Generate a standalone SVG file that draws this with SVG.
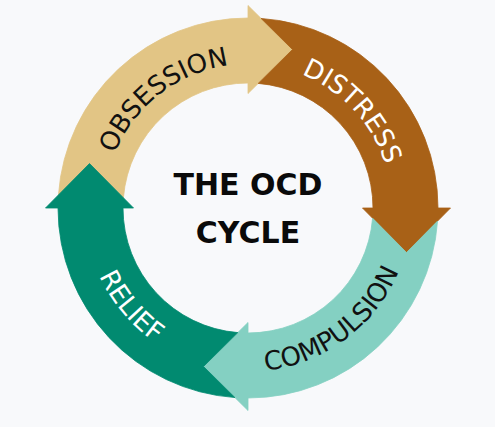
<svg xmlns="http://www.w3.org/2000/svg" xmlns:xlink="http://www.w3.org/1999/xlink" width="495" height="427" viewBox="0 0 495 427">
  <style>
    .seg { stroke-width: 0.8; stroke-linejoin: round; }
    .lbl { font-family: "DejaVu Sans", Verdana, sans-serif; font-size: 26px; }
    .title { font-family: "DejaVu Sans", Verdana, sans-serif; font-size: 30px; font-weight: bold; fill: #0a0a0a; text-anchor: middle; }
  </style>
  <defs>
    <path id="arrowSeg" d="M 13.1 -189.55 A 190 190 0 0 1 190 0 L 202.5 0 L 158.5 44.5 L 114.5 0 L 125 0 A 125 125 0 0 0 10.2 -124.6 L 44.5 -158.5 Z"/>
    <path id="topArc" d="M 104 208 A 144 144 0 0 1 392 208"/>
    <path id="bottomArc" d="M 84.5 208 A 163.5 163.5 0 0 0 411.5 208"/>
  </defs>
  <rect width="495" height="427" fill="#F8F9FB"/>
  <g id="connectors"/>
  <g id="obsession">
    <use xlink:href="#arrowSeg" class="seg" fill="#E2C585" stroke="#E2C585" transform="translate(248 208) rotate(-90)"/>
    <text class="lbl" fill="#111111" text-anchor="middle"><textPath xlink:href="#topArc" startOffset="29%">OBSESSION</textPath></text>
  </g>
  <g id="distress">
    <use xlink:href="#arrowSeg" class="seg" fill="#A86117" stroke="#A86117" transform="translate(248 208)"/>
    <text class="lbl" fill="#FFFFFF" text-anchor="middle"><textPath xlink:href="#topArc" startOffset="76.2%">DISTRESS</textPath></text>
  </g>
  <g id="compulsion">
    <use xlink:href="#arrowSeg" class="seg" fill="#84D0C2" stroke="#84D0C2" transform="translate(248 208) rotate(90)"/>
    <text class="lbl" fill="#111111" text-anchor="middle"><textPath xlink:href="#bottomArc" startOffset="70.4%">COMPULSION</textPath></text>
  </g>
  <g id="relief">
    <use xlink:href="#arrowSeg" class="seg" fill="#018A70" stroke="#018A70" transform="translate(248 208) rotate(180)"/>
    <text class="lbl" fill="#FFFFFF" text-anchor="middle"><textPath xlink:href="#bottomArc" startOffset="22.2%">RELIEF</textPath></text>
  </g>
  <g id="title">
    <text class="title" x="248" y="194.5">THE OCD</text>
    <text class="title" x="248" y="243">CYCLE</text>
  </g>
</svg>
